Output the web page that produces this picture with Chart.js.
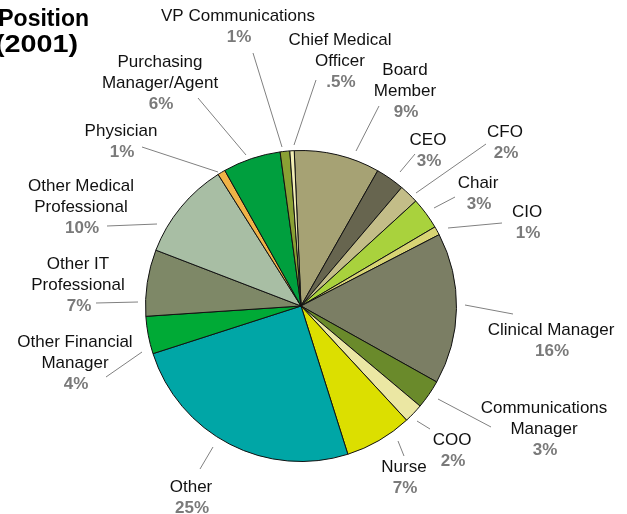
<!DOCTYPE html>
<html>
<head>
<meta charset="utf-8">
<script src="https://cdn.jsdelivr.net/npm/chart.js@4/dist/chart.umd.min.js"></script>
<style>
  html, body { margin: 0; padding: 0; background: #fff; }
  #wrap { width: 627px; height: 514px; position: relative; }
</style>
</head>
<body>
<div id="wrap"><canvas id="c" width="627" height="514"></canvas></div>
<script>
// ---- data ----
const categories = [
  'Board Member', 'CEO', 'CFO', 'Chair', 'CIO', 'Clinical Manager',
  'Communications Manager', 'COO', 'Nurse', 'Other', 'Other Financial Manager',
  'Other IT Professional', 'Other Medical Professional', 'Physician',
  'Purchasing Manager/Agent', 'VP Communications', 'Chief Medical Officer'
];
const shares = [8.9, 3.0, 2.0, 3.3, 0.9, 15.7, 3.0, 2.0, 7.0, 24.9, 3.9, 6.9, 10.2, 0.8, 6.0, 1.0, 0.45];
const percentText = ['9%', '3%', '2%', '3%', '1%', '16%', '3%', '2%', '7%', '25%', '4%', '7%', '10%', '1%', '6%', '1%', '.5%'];
const labelLines = [
  ['Board', 'Member'], ['CEO'], ['CFO'], ['Chair'], ['CIO'], ['Clinical Manager'],
  ['Communications', 'Manager'], ['COO'], ['Nurse'], ['Other'], ['Other Financial', 'Manager'],
  ['Other IT', 'Professional'], ['Other Medical', 'Professional'], ['Physician'],
  ['Purchasing', 'Manager/Agent'], ['VP Communications'], ['Chief Medical', 'Officer']
];
const titleLines = ['Position', '(2001)'];

// ---- styles / layout ----
const colors = [
  '#a6a274', '#67654f', '#c3bd88', '#a9d23d', '#d8d474', '#7b7e64',
  '#6a8a2b', '#ebe7a3', '#dcdf00', '#00a6a6', '#00aa36',
  '#7e8867', '#a8bea4', '#f0b347', '#009f3e', '#8aa034', '#f2eeb5'
];
// label anchor (center x, first-line y) and leader line end points
const labelLayout = [
  {x: 405, y: 70,  lead: [379, 106, 356, 151]},
  {x: 428, y: 140, lead: [415, 154, 400, 172]},
  {x: 505, y: 132, lead: [486, 144, 416, 193]},
  {x: 478, y: 183, lead: [455, 197, 434, 208]},
  {x: 527, y: 212, lead: [502, 223, 448, 228]},
  {x: 551, y: 330, lead: [513, 314, 465, 305]},
  {x: 544, y: 408, lead: [491, 427, 438, 399]},
  {x: 452, y: 440, lead: [430, 429, 417, 421]},
  {x: 404, y: 467, lead: [404, 456, 398, 441]},
  {x: 191, y: 487, lead: [200, 469, 213, 447]},
  {x: 75,  y: 342, lead: [106, 377, 142, 352]},
  {x: 78,  y: 264, lead: [96, 303, 138, 302]},
  {x: 81,  y: 186, lead: [107, 226, 157, 224]},
  {x: 121, y: 131, lead: [142, 147, 218, 172]},
  {x: 160, y: 62,  lead: [198, 98, 246, 155]},
  {x: 238, y: 16,  lead: [253, 53, 282, 147]},
  {x: 340, y: 40,  lead: [316, 80, 294, 145]}
];
const LINE_H = 21;

const labelPlugin = {
  id: 'pieLabels',
  afterDraw(chart) {
    const ctx = chart.ctx;
    ctx.save();
    // title (clipped at left edge)
    ctx.fillStyle = '#000';
    ctx.font = 'bold 23px "Liberation Sans", Arial, sans-serif';
    ctx.textAlign = 'right';
    ctx.textBaseline = 'middle';
    ctx.fillText(titleLines[0], 89, 20);
    ctx.save();
    ctx.translate(78, 46);
    ctx.scale(1.25, 1);
    ctx.fillText(titleLines[1], 0, 0);
    ctx.restore();

    ctx.textAlign = 'center';
    categories.forEach((cat, i) => {
      const L = labelLayout[i];
      // leader line
      ctx.strokeStyle = '#808080';
      ctx.lineWidth = 1;
      ctx.beginPath();
      ctx.moveTo(L.lead[0], L.lead[1]);
      ctx.lineTo(L.lead[2], L.lead[3]);
      ctx.stroke();
      // name
      ctx.fillStyle = '#111';
      ctx.font = '17px "Liberation Sans", Arial, sans-serif';
      const lines = labelLines[i];
      lines.forEach((t, k) => ctx.fillText(t, L.x, L.y + k * LINE_H));
      // percent
      ctx.fillStyle = '#7a7a7a';
      ctx.font = 'bold 17px "Liberation Sans", Arial, sans-serif';
      ctx.fillText(percentText[i], L.x + 1, L.y + lines.length * LINE_H);
    });
    ctx.restore();
  }
};

new Chart(document.getElementById('c'), {
  type: 'pie',
  data: {
    labels: categories,
    datasets: [{
      data: shares,
      backgroundColor: colors,
      borderColor: '#111',
      borderWidth: 1
    }]
  },
  options: {
    responsive: false,
    animation: false,
    rotation: -2.5,
    layout: { padding: { left: 145, right: 170, top: 150, bottom: 52 } },
    plugins: { legend: { display: false }, tooltip: { enabled: false } }
  },
  plugins: [labelPlugin]
});
</script>
</body>
</html>
